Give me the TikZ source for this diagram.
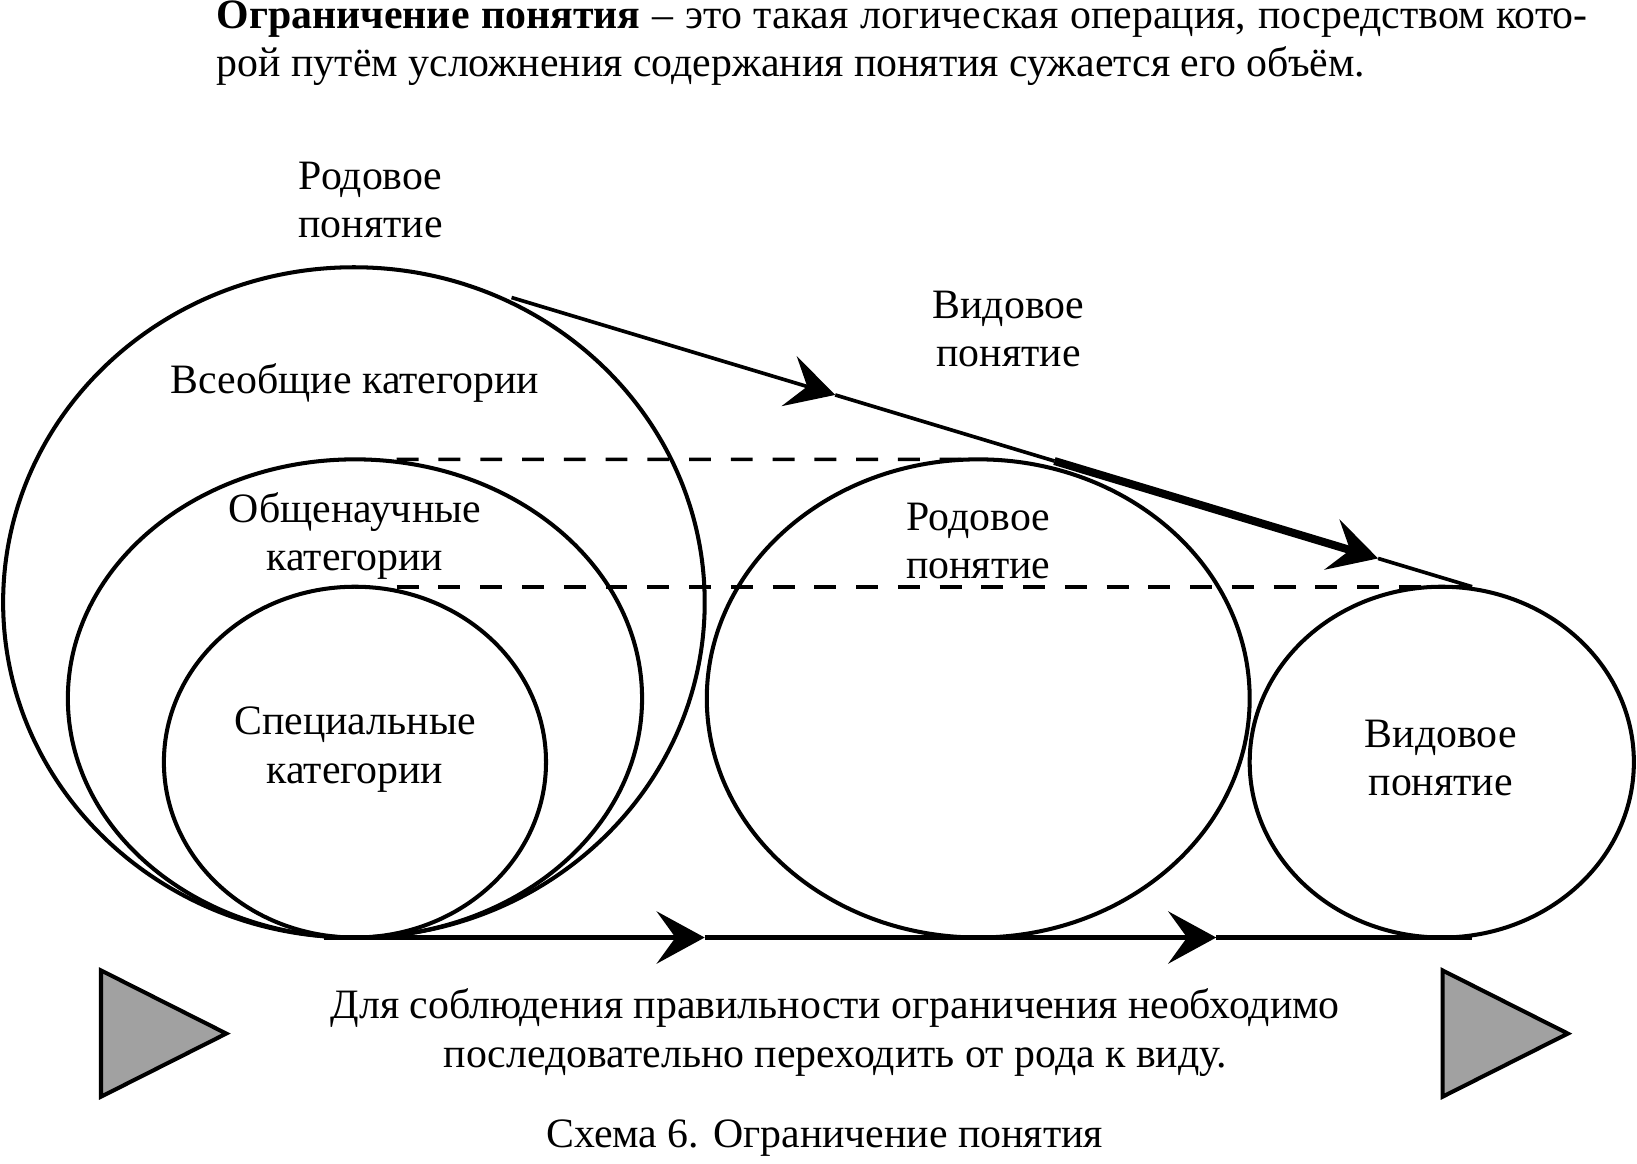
\documentclass[tikz,border=0pt]{standalone}
\usepackage{fontspec}
\setmainfont{Liberation Serif}
\usetikzlibrary{shapes.geometric,arrows.meta}

\begin{document}
\begin{tikzpicture}[
    oval/.style={ellipse,draw,line width=1.1pt,inner sep=0pt,outer sep=0pt},
    lbl/.style={align=center,font=\fontsize{11.4pt}{13.1pt}\selectfont},
    arr/.style={-{Stealth[length=4.6mm,width=5mm,inset=1.8mm]}},
    dsh/.style={line width=1pt,dash pattern=on 2.1mm off 1.9mm},
    tri/.style={draw,fill=black!37,line width=1.1pt,line join=miter,isosceles triangle,
        isosceles triangle apex angle=53.5,minimum height=1.2cm,inner sep=0pt}
]
    \useasboundingbox (0,0) rectangle (15.68,11.14);

    % text above
    \node[lbl,anchor=base west,inner sep=0pt,text width=13.13cm,align=justify] (top) at (2.07,10.87)
    {
        \textbf{Ограничение понятия} – это такая логическая операция, посредством кото-\linebreak
        рой путём усложнения содержания понятия сужается его объём.
    };

    % circles
    \node[oval,minimum width=6.72cm,minimum height=6.42cm] (a) at (3.39,5.37) {};
    \node[oval,minimum width=5.50cm,minimum height=4.58cm] (b) at (3.40,4.45) {};
    \node[oval,minimum width=3.66cm,minimum height=3.36cm] (c) at (3.40,3.84) {};
    \node[oval,minimum width=5.20cm,minimum height=4.58cm] (d) at (9.37,4.45) {};
    \node[oval,minimum width=3.68cm,minimum height=3.36cm] (e) at (13.81,3.84) {};

    % labels
    \node[lbl] (ra) at (3.55,9.22) {Родовое\\понятие};
    \node[lbl] (va) at (9.66,7.99) {Видовое\\понятие};
    \node[lbl] (la) at (3.40,7.47) {Всеобщие категории};
    \node[lbl] (lb) at (3.40,6.01) {Общенаучные\\категории};
    \node[lbl] (lc) at (3.40,3.96) {Специальные\\категории};
    \node[lbl] (ld) at (9.37,5.96) {Родовое\\понятие};
    \node[lbl] (le) at (13.80,3.88) {Видовое\\понятие};

    % bottom
    \node[tri] (t1) at (1.34,1.24) {};
    \node[tri] (t2) at (14.19,1.24) {};
    \node[lbl] (rule) at (8.00,1.25)
    {Для соблюдения правильности ограничения необходимо\\последовательно переходить от рода к виду.};
    \node[lbl] (cap) at (7.90,0.24) {Схема 6. Ограничение понятия};

    \coordinate (p0) at (4.90,8.29);
    \coordinate (p1) at (8.00,7.357);
    \coordinate (p2) at (10.10,6.724);
    \coordinate (p3) at (13.20,5.791);
    \coordinate (p4) at (14.10,5.52);
    \coordinate (q0) at (3.10,2.16);
    \coordinate (q1) at (6.75,2.16);
    \coordinate (q2) at (11.65,2.16);
    \coordinate (q3) at (14.10,2.16);
    \coordinate (h0) at (3.80,6.74);
    \coordinate (h1) at (3.80,5.52);

    \draw[dsh](h0)--(d.north);
    \draw[dsh](h1)--(p4);
    \draw[arr,line width=1pt](p0)--(p1);
    \draw[line width=1pt](p1)--(p2);
    \draw[arr,line width=2.2pt](p2)--(p3);
    \draw[line width=1pt](p3)--(p4);
    \draw[arr,line width=1.3pt](q0)--(q1);
    \draw[arr,line width=1.3pt](q1)--(q2);
    \draw[line width=1.3pt](q2)--(q3);
\end{tikzpicture}
\end{document}
